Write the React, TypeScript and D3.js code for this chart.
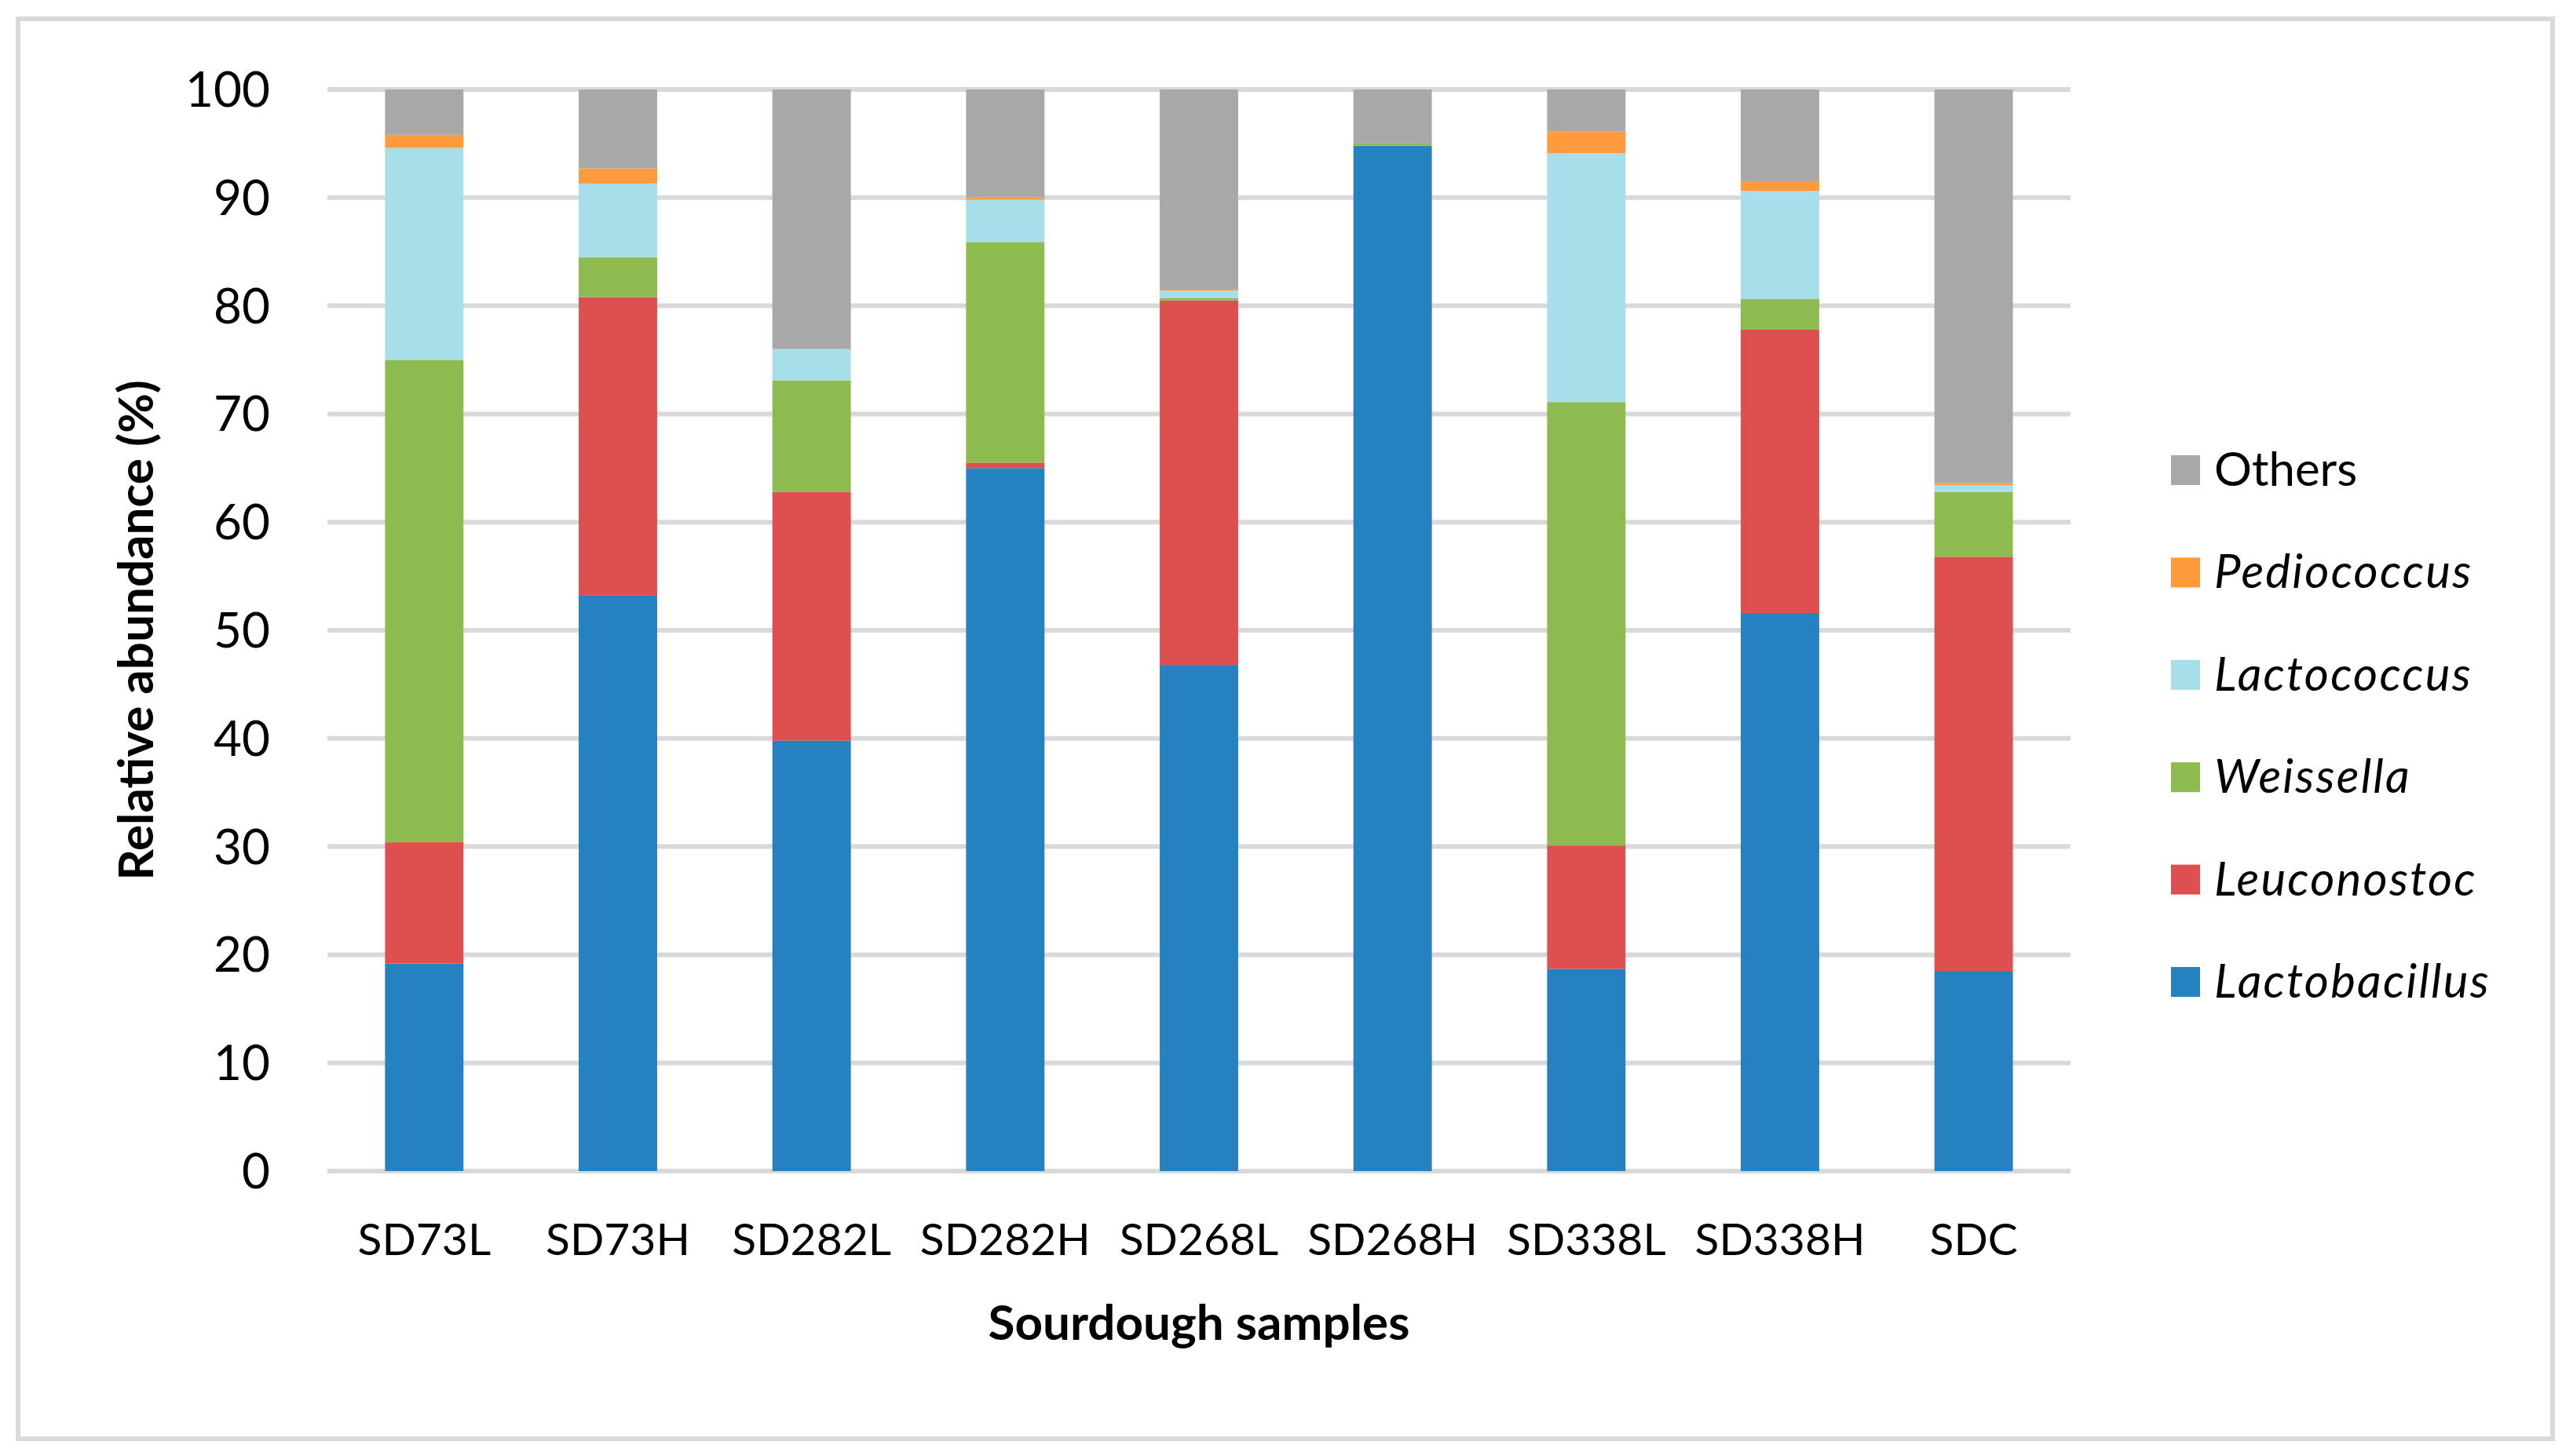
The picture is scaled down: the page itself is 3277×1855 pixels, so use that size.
import React from "react";
import * as d3 from "d3";

const samples = ["SD73L", "SD73H", "SD282L", "SD282H", "SD268L", "SD268H", "SD338L", "SD338H", "SDC"];
const genera = ["Lactobacillus", "Leuconostoc", "Weissella", "Lactococcus", "Pediococcus", "Others"];
const lactobacillus = [19.2, 53.2, 39.8, 65.0, 46.8, 94.8, 18.7, 51.6, 18.5];
const leuconostoc = [11.2, 27.6, 23.0, 0.5, 33.7, 0.0, 11.4, 26.2, 38.3];
const weissella = [44.6, 3.7, 10.3, 20.4, 0.2, 0.2, 41.0, 2.85, 6.0];
const lactococcus = [19.6, 6.8, 2.9, 3.9, 0.7, 0.0, 23.0, 9.95, 0.6];
const pediococcus = [1.2, 1.4, 0.0, 0.2, 0.1, 0.0, 2.0, 0.9, 0.2];
const others = [4.2, 7.3, 24.0, 10.0, 18.5, 5.0, 3.9, 8.5, 36.4];
const yTicks = [0, 10, 20, 30, 40, 50, 60, 70, 80, 90, 100];
const colors = ["#2581C0", "#DE4F4F", "#8DBB50", "#A6DEEA", "#FF9A3D", "#A8A8A8"];
const italicGenus = [true, true, true, true, true, false];

const seriesValues = [lactobacillus, leuconostoc, weissella, lactococcus, pediococcus, others];

export default function App() {
  const W = 3277;
  const H = 1855;
  const left = 417;
  const right = 2637;
  const top = 114;
  const bottom = 1492;
  const font = "Lato, 'Open Sans', sans-serif";

  const rows = samples.map((s, i) => {
    const r: Record<string, number | string> = { sample: s };
    genera.forEach((g, k) => (r[g] = seriesValues[k][i]));
    return r;
  });
  const stacked = d3.stack<any>().keys(genera)(rows as any);

  const x = d3.scaleBand().domain(samples).range([left, right]).paddingInner(0.595).paddingOuter(0.2975);
  const y = d3.scaleLinear().domain([0, 100]).range([bottom, top]);

  const legendOrder = [...genera].reverse();
  const legendY0 = 599;
  const legendStep = 130.4;

  return (
    <svg width={W} height={H} style={{ position: "absolute", left: 0, top: 0, background: "#fff" }}>
      <rect x={0} y={0} width={W} height={H} fill="#fff" />
      <rect x={23} y={24} width={3228} height={1809} fill="none" stroke="#D9D9D9" strokeWidth={6} />
      {yTicks.map((t) => (
        <g key={t}>
          <line x1={left} x2={right} y1={y(t)} y2={y(t)} stroke="#D9D9D9" strokeWidth={6} />
          <text x={344} y={y(t) + 22} textAnchor="end" fontFamily={font} fontSize={62} fill="#000">
            {t}
          </text>
        </g>
      ))}
      {stacked.map((layer, k) => (
        <g key={genera[k]} fill={colors[k]}>
          {layer.map((d, i) => (
            <rect
              key={samples[i]}
              x={x(samples[i])}
              width={x.bandwidth()}
              y={y(d[1])}
              height={Math.max(0, y(d[0]) - y(d[1]))}
            />
          ))}
        </g>
      ))}
      {samples.map((s) => (
        <text
          key={s}
          x={(x(s) as number) + x.bandwidth() / 2}
          y={1599}
          textAnchor="middle"
          fontFamily={font}
          fontSize={57}
          fill="#000"
        >
          {s}
        </text>
      ))}
      <text
        transform={`translate(195, ${(top + bottom) / 2}) rotate(-90)`}
        textAnchor="middle"
        fontFamily={font}
        fontWeight="bold"
        fontSize={62}
        fill="#000"
      >
        Relative abundance (%)
      </text>
      <text
        x={(left + right) / 2}
        y={1707}
        textAnchor="middle"
        fontFamily={font}
        fontWeight="bold"
        fontSize={62}
        fill="#000"
      >
        Sourdough samples
      </text>
      {legendOrder.map((g, j) => {
        const k = genera.indexOf(g);
        const cy = legendY0 + j * legendStep;
        return (
          <g key={g}>
            <rect x={2765} y={cy - 19} width={37} height={38} fill={colors[k]} />
            <text
              x={2820}
              y={cy + 20}
              fontFamily={font}
              fontSize={60}
              fontStyle={italicGenus[k] ? "italic" : "normal"}
              letterSpacing={italicGenus[k] ? 2.2 : 0}
              fill="#000"
            >
              {g}
            </text>
          </g>
        );
      })}
    </svg>
  );
}
